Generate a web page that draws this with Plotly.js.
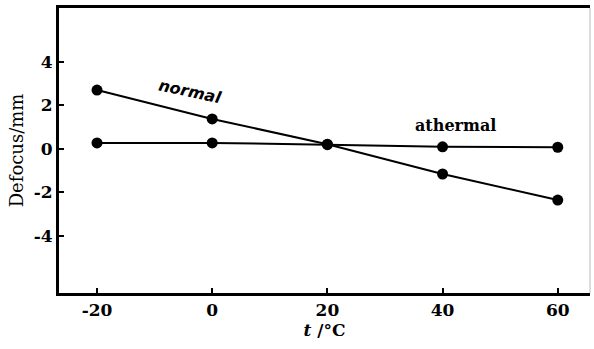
<!DOCTYPE html>
<html>
<head>
<meta charset="utf-8">
<script src="https://cdn.plot.ly/plotly-3.0.1.min.js"></script>
<style>html,body{margin:0;padding:0;background:#fff;}#chart{width:594px;height:349px;}</style>
</head>
<body>
<div id="chart"></div>
<script>
const temperature = [-20, 0, 20, 40, 60];
const normalDefocus = [2.71, 1.38, 0.22, -1.15, -2.35];
const athermalDefocus = [0.28, 0.28, 0.2, 0.1, 0.08];
const xTickVals = [-20, 0, 20, 40, 60];
const xTickText = ["-20", "0", "20", "40", "60"];
const yTickVals = [-4, -2, 0, 2, 4];
const yTickText = ["-4", "-2", "0", "2", "4"];

const serif = "DejaVu Serif, Liberation Serif, serif";

const traces = [
  {x: temperature, y: normalDefocus, mode: "lines+markers", name: "normal",
   line: {color: "#000", width: 2}, marker: {color: "#000", size: 11}},
  {x: temperature, y: athermalDefocus, mode: "lines+markers", name: "athermal",
   line: {color: "#000", width: 2}, marker: {color: "#000", size: 11}}
];

const layout = {
  width: 594, height: 349,
  margin: {l: 59, r: 4, t: 8, b: 56},
  paper_bgcolor: "#fff", plot_bgcolor: "#fff",
  showlegend: false,
  xaxis: {
    range: [-26.6, 65.6],
    tickvals: xTickVals, ticktext: xTickText,
    ticks: "inside", ticklen: 5, tickwidth: 2, tickcolor: "#000",
    showline: true, linecolor: "#000", linewidth: 3, mirror: true,
    showgrid: false, zeroline: false,
    tickfont: {family: serif, size: 17, color: "#000", weight: "bold"},
    title: {text: "<i>t</i> /°C", font: {family: serif, size: 17, color: "#000", weight: "bold"}, standoff: 5}
  },
  yaxis: {
    range: [-6.62, 6.48],
    tickvals: yTickVals, ticktext: yTickText,
    ticks: "inside", ticklen: 5, tickwidth: 2, tickcolor: "#000",
    showline: true, linecolor: "#000", linewidth: 3,
    showgrid: false, zeroline: false,
    tickfont: {family: serif, size: 17, color: "#000", weight: "bold"},
    title: {text: "Defocus/mm", font: {family: serif, size: 18, color: "#000"}, standoff: 6}
  },
  shapes: [
    {type: "line", xref: "paper", yref: "paper", x0: 1, x1: 1, y0: 0, y1: 1,
     line: {color: "#bbb", width: 1}}
  ],
  annotations: [
    {x: -3.8, y: 2.62, xref: "x", yref: "y", text: "normal", showarrow: false, textangle: 12,
     font: {family: "DejaVu Sans, sans-serif", size: 16, color: "#000", style: "italic", weight: "bold"}},
    {x: 42.2, y: 1.06, xref: "x", yref: "y", text: "athermal", showarrow: false,
     font: {family: serif, size: 16, color: "#000", weight: "bold"}}
  ]
};

Plotly.newPlot("chart", traces, layout, {displayModeBar: false, staticPlot: true});
</script>
</body>
</html>
